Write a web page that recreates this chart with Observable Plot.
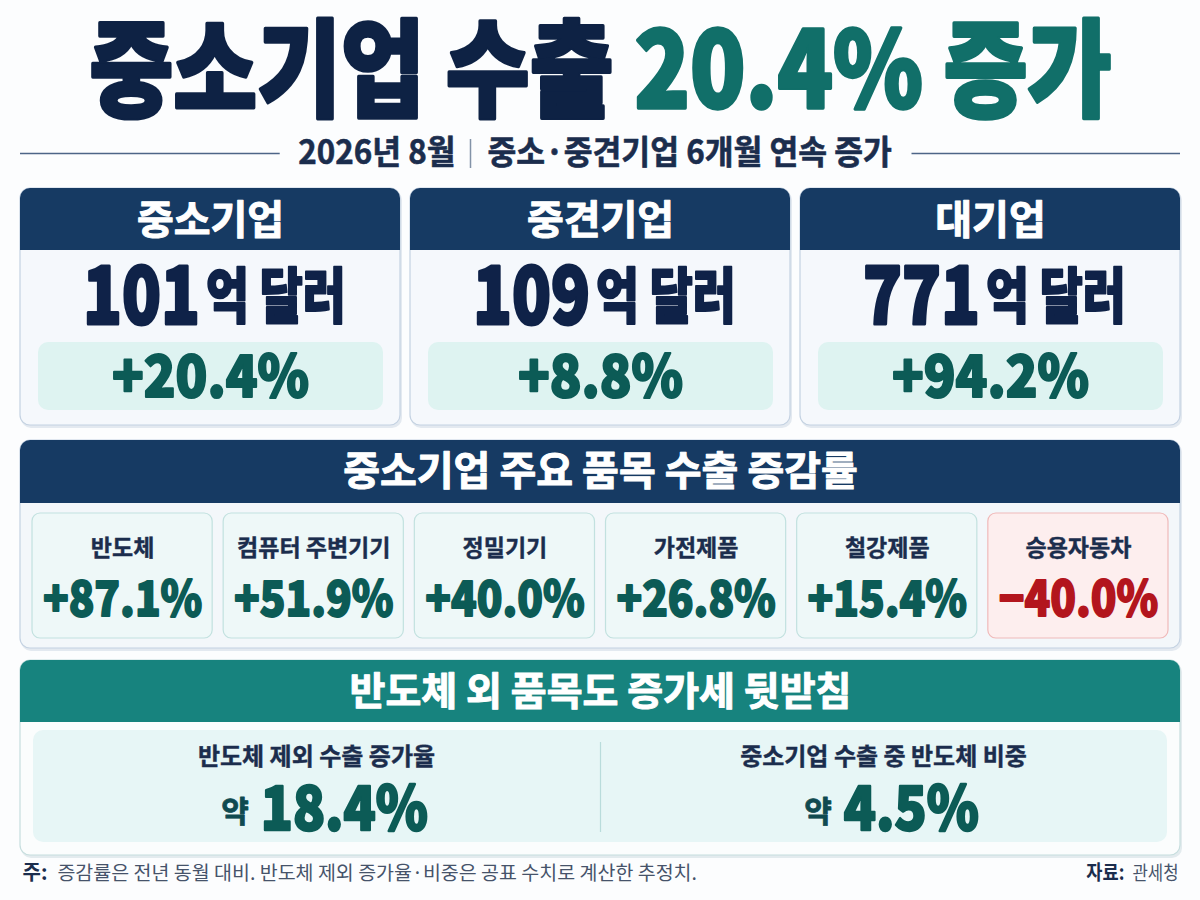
<!DOCTYPE html>
<html><head><meta charset="utf-8">
<script src="https://cdn.jsdelivr.net/npm/d3@7"></script>
<script src="https://cdn.jsdelivr.net/npm/@observablehq/plot@0.6"></script>
<style>
html,body{margin:0;padding:0;background:#fcfdfe;}
#chart{width:1200px;height:900px;}
</style></head><body><div id="chart"></div>
<script>
// ---------- data ----------
const titleMain = "중소기업 수출";
const titleAccent = "20.4% 증가";
const subDate = "2026년 8월";
const subNote = "중소·중견기업 6개월 연속 증가";
const segments = ["중소기업", "중견기업", "대기업"];
const segExports = [101, 109, 771];          // 억 달러
const segUnit = "억 달러";
const segGrowth = [20.4, 8.8, 94.2];         // %
const section2Title = "중소기업 주요 품목 수출 증감률";
const items = ["반도체", "컴퓨터 주변기기", "정밀기기", "가전제품", "철강제품", "승용자동차"];
const itemGrowth = [87.1, 51.9, 40.0, 26.8, 15.4, -40.0];
const section3Title = "반도체 외 품목도 증가세 뒷받침";
const extraLabels = ["반도체 제외 수출 증가율", "중소기업 수출 중 반도체 비중"];
const extraValues = [18.4, 4.5];
const approx = "약";
const noteLabel = "주:";
const noteText = "증감률은 전년 동월 대비. 반도체 제외 증가율·비중은 공표 수치로 계산한 추정치.";
const sourceLabel = "자료:";
const sourceText = "관세청";

// ---------- helpers ----------
const FONT = "'Noto Sans CJK KR', 'Noto Sans', sans-serif";
const W = 1200, H = 900;
const NAVY = "#163a63", TEAL = "#17837e", DARKTEAL = "#0c5b56", INK = "#1b2d4d";
const ctx = document.createElement("canvas").getContext("2d");
function tw(s, size, weight) { ctx.font = `${weight} ${size}px ${FONT}`; return ctx.measureText(s).width; }
const pct = v => (v > 0 ? "+" : v < 0 ? "−" : "") + Math.abs(v).toFixed(1) + "%";
const T = (data, o) => Plot.text(data, {text: "t", x: "x", y: "y", fontFamily: FONT, ...o});
const R = (data, o) => Plot.rect(data, {x1: "x1", x2: "x2", y1: "y1", y2: "y2", ...o});
// heavy text: same-colour stroke behind the fill
const heavy = (color, w) => ({fill: color, stroke: color, strokeWidth: w, strokeLinejoin: "round"});

const marks = [];

// ---------- title ----------
const TF = 106, TC = 0.86;
const wMain = tw(titleMain, TF, 900) * TC, wAcc = tw(titleAccent, TF, 900) * TC, wGap = tw(" ", TF, 900) * TC;
const tStart = W / 2 - (wMain + wGap + wAcc) / 2;
marks.push(T([{t: titleMain, x: tStart, y: 74}], {fontSize: TF, fontWeight: 900, ...heavy("#0e2244", 3.5), textAnchor: "start", ariaDescription: "sx" + TC}));
marks.push(T([{t: titleAccent, x: tStart + wMain + wGap, y: 74}], {fontSize: TF, fontWeight: 900, ...heavy("#116f69", 3.5), textAnchor: "start", ariaDescription: "sx" + TC}));

// ---------- subtitle ----------
const SF = 33, sepX = 470, subY = 153;
const wDate = tw(subDate, SF, 700) * 0.95, wNote = tw(subNote, SF, 700) * 0.95;
marks.push(Plot.ruleY([{y: subY, x1: 20, x2: sepX - 15 - wDate - 18}], {y: "y", x1: "x1", x2: "x2", stroke: "#4d6587", strokeWidth: 1.6}));
marks.push(Plot.ruleY([{y: subY, x1: sepX + 17 + wNote + 20, x2: 1180}], {y: "y", x1: "x1", x2: "x2", stroke: "#4d6587", strokeWidth: 1.6}));
marks.push(Plot.ruleX([{x: sepX, y1: 139, y2: 168}], {x: "x", y1: "y1", y2: "y2", stroke: "#8393a8", strokeWidth: 1.5}));
marks.push(T([{t: subDate, x: sepX - 15, y: subY}], {fontSize: SF, fontWeight: 700, ...heavy(INK, 0.6), textAnchor: "end", ariaDescription: "sx0.95"}));
marks.push(T([{t: subNote, x: sepX + 17, y: subY}], {fontSize: SF, fontWeight: 700, ...heavy(INK, 0.6), textAnchor: "start", ariaDescription: "sx0.95"}));

// ---------- segment cards ----------
const cards = segments.map((s, i) => {
  const x1 = 20 + i * 390, x2 = x1 + 380, cx = (x1 + x2) / 2;
  return {s, i, x1, x2, cx};
});
marks.push(R(cards.map(c => ({x1: c.x1 + 1, x2: c.x2 + 2, y1: 190, y2: 428})), {fill: "#e3e9f0", rx: 10}));
marks.push(R(cards.map(c => ({x1: c.x1, x2: c.x2, y1: 188, y2: 425})), {fill: "#f5f8fc", stroke: "#c4d2e2", strokeWidth: 1.2, rx: 10}));
marks.push(R(cards.map(c => ({x1: c.x1, x2: c.x2, y1: 188, y2: 250})), {fill: NAVY, rx: 10}));
marks.push(R(cards.map(c => ({x1: c.x1, x2: c.x2, y1: 225, y2: 250})), {fill: NAVY}));
marks.push(T(cards.map(c => ({t: c.s, x: c.cx, y: 221})), {fontSize: 40, fontWeight: 700, ...heavy("white", 1)}));
const NF = 80, NC = 0.8, UF = 60, UC = 0.78;
const valRows = cards.map(c => {
  const num = String(segExports[c.i]);
  const wn = tw(num, NF, 900) * NC, wu = tw(segUnit, UF, 900) * UC, g = 6;
  const start = c.cx + 4 - (wn + g + wu) / 2;
  return {num, xs: start, xu: start + wn + g};
});
marks.push(T(valRows.map(r => ({t: r.num, x: r.xs, y: 298})), {fontSize: NF, fontWeight: 900, ...heavy("#0f2248", 3), textAnchor: "start", ariaDescription: "sx" + NC}));
marks.push(T(valRows.map(r => ({t: segUnit, x: r.xu, y: 298})), {fontSize: UF, fontWeight: 900, ...heavy("#0f2248", 2), textAnchor: "start", ariaDescription: "sx" + UC}));
marks.push(R(cards.map(c => ({x1: c.x1 + 18, x2: c.x2 - 17, y1: 342, y2: 410})), {fill: "#def3f1", rx: 10}));
marks.push(T(cards.map(c => ({t: pct(segGrowth[c.i]), x: c.cx, y: 378})), {fontSize: 58, fontWeight: 900, ...heavy(DARKTEAL, 2.2), ariaDescription: "sx0.9"}));

// ---------- section 2 ----------
marks.push(R([{x1: 21, x2: 1182, y1: 442, y2: 651}], {fill: "#e3e9f0", rx: 10}));
marks.push(R([{x1: 20, x2: 1180, y1: 440, y2: 648}], {fill: "#f3f7fa", stroke: "#c4d2e2", strokeWidth: 1.2, rx: 10}));
marks.push(R([{x1: 20, x2: 1180, y1: 440, y2: 503}], {fill: NAVY, rx: 10}));
marks.push(R([{x1: 20, x2: 1180, y1: 475, y2: 503}], {fill: NAVY}));
marks.push(T([{t: section2Title, x: 600, y: 472}], {fontSize: 40, fontWeight: 700, ...heavy("white", 1)}));
const gap = 11, bw = (1136 - 5 * gap) / 6;
const boxes = items.map((s, i) => {
  const x1 = 32 + i * (bw + gap);
  return {s, v: itemGrowth[i], x1, x2: x1 + bw, cx: x1 + bw / 2};
});
marks.push(R(boxes.map(b => ({...b, y1: 513, y2: 638})), {
  fill: d => d.v < 0 ? "#fdeeee" : "#eef8f8",
  stroke: d => d.v < 0 ? "#f0b9b9" : "#c2e1df", strokeWidth: 1.2, rx: 8
}));
marks.push(T(boxes.map(b => ({t: b.s, x: b.cx, y: 548})), {fontSize: 23, fontWeight: 700, ...heavy(INK, 0.4)}));
marks.push(T(boxes.map(b => ({t: pct(b.v), x: b.cx, y: 600, neg: b.v < 0})), {
  fontSize: 48, fontWeight: 900, fill: d => d.neg ? "#b3151d" : DARKTEAL, stroke: d => d.neg ? "#b3151d" : DARKTEAL,
  strokeWidth: 1.8, strokeLinejoin: "round", ariaDescription: "sx0.88"
}));

// ---------- section 3 ----------
marks.push(R([{x1: 21, x2: 1182, y1: 662, y2: 858}], {fill: "#e3ebee", rx: 10}));
marks.push(R([{x1: 20, x2: 1180, y1: 660, y2: 855}], {fill: "#fbfdfd", stroke: "#c6dede", strokeWidth: 1.2, rx: 10}));
marks.push(R([{x1: 20, x2: 1180, y1: 660, y2: 722}], {fill: TEAL, rx: 10}));
marks.push(R([{x1: 20, x2: 1180, y1: 695, y2: 722}], {fill: TEAL}));
marks.push(T([{t: section3Title, x: 600, y: 692}], {fontSize: 39, fontWeight: 700, ...heavy("white", 1)}));
marks.push(R([{x1: 33, x2: 1167, y1: 730, y2: 842}], {fill: "#e7f6f6", rx: 10}));
marks.push(Plot.ruleX([{x: 600, y1: 742, y2: 832}], {x: "x", y1: "y1", y2: "y2", stroke: "#b9dcdb", strokeWidth: 1.2}));
const cols = extraLabels.map((s, i) => ({s, v: extraValues[i], cx: 316 + i * 567}));
marks.push(T(cols.map(c => ({t: c.s, x: c.cx, y: 757})), {fontSize: 24, fontWeight: 700, ...heavy(INK, 0.4)}));
const XF = 60, XC = 0.88, AF = 30;
const exRows = cols.map(c => {
  const v = c.v.toFixed(1) + "%";
  const wa = tw(approx, AF, 700), wv = tw(v, XF, 900) * XC, g = 12;
  const start = c.cx + 8 - (wa + g + wv) / 2;
  return {v, xa: start, xv: start + wa + g};
});
marks.push(T(exRows.map(r => ({t: approx, x: r.xa, y: 812})), {fontSize: AF, fontWeight: 700, ...heavy("#0f4a50", 0.8), textAnchor: "start"}));
marks.push(T(exRows.map(r => ({t: r.v, x: r.xv, y: 810})), {fontSize: XF, fontWeight: 900, ...heavy(DARKTEAL, 2.4), textAnchor: "start", ariaDescription: "sx" + XC}));

// ---------- footer ----------
const FF = 19.5, SC = 0.88;
marks.push(T([{t: noteLabel, x: 22, y: 873}], {fontSize: 20, fontWeight: 700, fill: INK, textAnchor: "start"}));
marks.push(T([{t: noteText, x: 22 + tw(noteLabel, 20, 700) + 10, y: 873}], {fontSize: FF, fontWeight: 400, fill: "#46536a", textAnchor: "start"}));
marks.push(T([{t: sourceText, x: 1178, y: 873}], {fontSize: 19, fontWeight: 400, fill: "#46536a", textAnchor: "end", ariaDescription: "sx" + SC}));
marks.push(T([{t: sourceLabel, x: 1178 - tw(sourceText, 19, 400) * SC - 8, y: 873}], {fontSize: 20, fontWeight: 700, fill: INK, textAnchor: "end", ariaDescription: "sx" + SC}));

const svg = Plot.plot({
  width: W, height: H, margin: 0,
  x: {domain: [0, W], range: [0, W], axis: null},
  y: {domain: [0, H], range: [0, H], axis: null},
  style: {background: "#fcfdfe", fontFamily: FONT},
  marks
});

// horizontal condensing of display text (scale about each text's anchor point)
svg.querySelectorAll("g[aria-description]").forEach(g => {
  const m = /^sx([\d.]+)$/.exec(g.getAttribute("aria-description"));
  if (!m) return;
  const f = +m[1];
  g.querySelectorAll("text").forEach(t => {
    let tr = t.getAttribute("transform");
    if (!tr) {
      const x = +t.getAttribute("x") || 0, y = +t.getAttribute("y") || 0;
      t.removeAttribute("x"); t.removeAttribute("y");
      tr = `translate(${x},${y})`;
    }
    t.setAttribute("transform", tr + ` scale(${f},1)`);
  });
});
document.getElementById("chart").appendChild(svg);
</script>
</body></html>
